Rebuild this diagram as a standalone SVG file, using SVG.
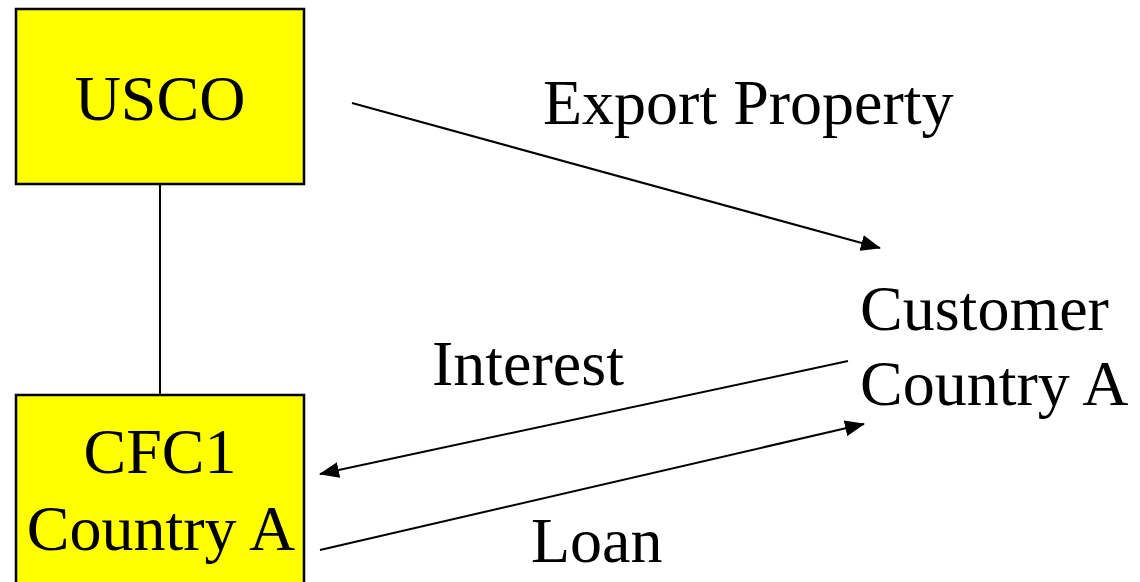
<svg xmlns="http://www.w3.org/2000/svg" width="1140" height="582" viewBox="0 0 1140 582">
  <style>
    .box { fill: #ffff00; stroke: #000; stroke-width: 2.5; }
    .lbl { font-family: "Liberation Serif", "Times New Roman", serif; font-size: 64px; fill: #000; }
    .mid { text-anchor: middle; }
    .edge { stroke: #000; stroke-width: 2; fill: none; }
  </style>
  <defs>
    <marker id="head" viewBox="0 0 20 16" refX="19" refY="8" markerWidth="20" markerHeight="16" markerUnits="userSpaceOnUse" orient="auto">
      <path d="M0,0 L20,8 L0,16 Z" fill="#000"/>
    </marker>
  </defs>

  <g id="connectors">
    <line class="edge" x1="160" y1="184" x2="160" y2="395"/>
    <line class="edge" x1="352" y1="103" x2="880" y2="248" marker-end="url(#head)"/>
    <line class="edge" x1="848" y1="361" x2="320" y2="474" marker-end="url(#head)"/>
    <line class="edge" x1="320" y1="550" x2="864" y2="424" marker-end="url(#head)"/>
  </g>

  <g id="usco">
    <rect class="box" x="16" y="9" width="288" height="175"/>
    <text class="lbl mid" x="160" y="120">USCO</text>
  </g>

  <g id="cfc1">
    <rect class="box" x="16" y="395" width="288" height="200"/>
    <text class="lbl mid" x="160" y="473">CFC1</text>
    <text class="lbl mid" x="161" y="550">Country A</text>
  </g>

  <g id="customer">
    <text class="lbl" x="860" y="330">Customer</text>
    <text class="lbl" x="860" y="405">Country A</text>
  </g>

  <g id="labels">
    <text class="lbl" x="543" y="124">Export Property</text>
    <text class="lbl" x="432" y="385">Interest</text>
    <text class="lbl" x="531" y="562">Loan</text>
  </g>
</svg>
